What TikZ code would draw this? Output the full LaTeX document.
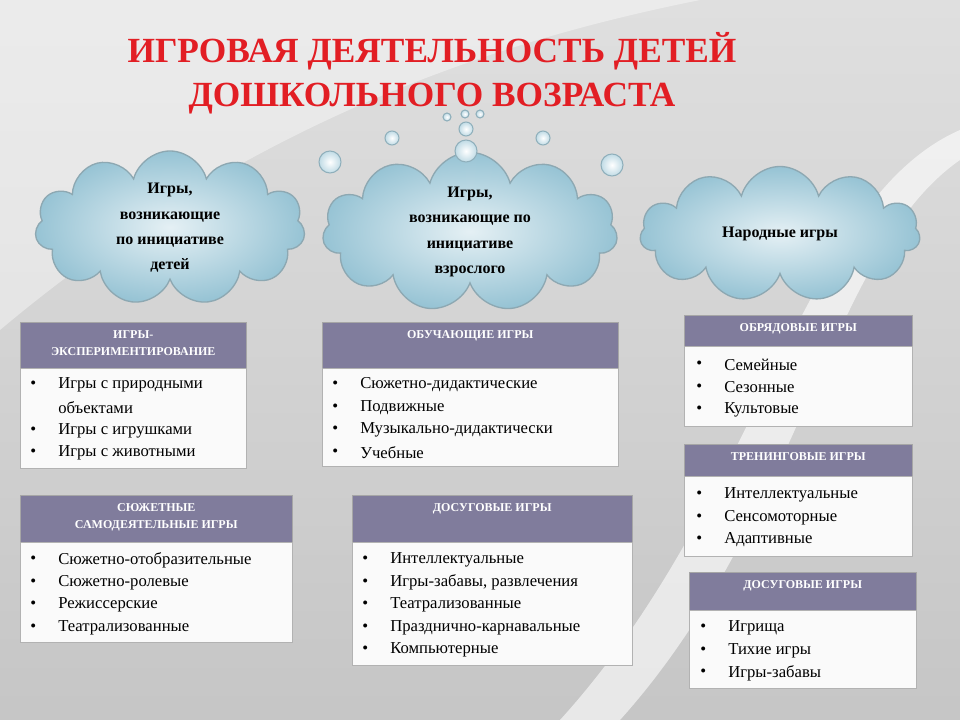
\documentclass[tikz,border=0pt]{standalone}
\usepackage{fontspec}
\setmainfont{Liberation Serif}
\usetikzlibrary{shapes.symbols}
\definecolor{hdr}{RGB}{128,124,156}
\definecolor{ttl}{RGB}{226,30,36}
\definecolor{cl}{RGB}{150,195,212}
\tikzset{
 cloudbox/.style={cloud, cloud puffs=11, cloud ignores aspect, inner sep=0pt, draw=cl!60!gray, line width=1pt, inner color=white!75!cl, outer color=cl, align=center, font=\fontsize{12}{19}\selectfont\bfseries},
 bub/.style={circle, draw=cl!70!gray, line width=0.8pt, inner color=white, outer color=cl!60!white, inner sep=0pt},
 hdrbox/.style={fill=hdr, draw=gray!70},
 bodybox/.style={fill=white!96!gray, draw=gray!60},
 htxt/.style={text=white, font=\fontsize{9}{13}\selectfont\bfseries, align=center, anchor=north},
 itm/.style={anchor=west, inner sep=0pt, font=\fontsize{12.5}{13}\selectfont},
}
\newcommand{\tbl}[7]{% name x1 x2 y1 y2 y3 header
 \node[hdrbox, minimum width=(#3-#2)*0.75pt, minimum height=(#5-#4)*0.75pt, anchor=north west, inner sep=0pt] (#1h) at (#2,#4) {};
 \node[bodybox, minimum width=(#3-#2)*0.75pt, minimum height=(#6-#5)*0.75pt, anchor=north west, inner sep=0pt] (#1b) at (#2,#5) {};
 \node[htxt] (#1t) at ([yshift=-3pt]#1h.north) {#7};
}
\newcommand{\itms}[4]{% x y0 dy list
 \foreach \t [count=\i from 0] in {#4} {
  \node[itm] (b\i) at (#1,#2+\i*#3) {•};
  \node[itm] (t\i) at (#1+28,#2+\i*#3) {\t};
 }
}
\begin{document}
\begin{tikzpicture}[x=0.75pt,y=-0.75pt]
\useasboundingbox (0,0) rectangle (960,720);
\shade[top color=gray!25, bottom color=gray!45] (0,0) rectangle (960,720);
\fill[white, opacity=0.6] (560,720) .. controls (760,500) and (800,200) .. (960,130) -- (960,160) .. controls (830,250) and (800,520) .. (620,720) -- cycle;
\fill[white, opacity=0.4] (0,0) -- (700,0) .. controls (500,40) and (250,120) .. (0,330) -- cycle;
\node[text=ttl, font=\fontsize{26.5}{33}\selectfont\bfseries, align=center] (title) at (432,73) {ИГРОВАЯ ДЕЯТЕЛЬНОСТЬ ДЕТЕЙ\\ДОШКОЛЬНОГО ВОЗРАСТА};
\node[cloudbox, minimum width=270*0.75pt, minimum height=135*0.75pt] (c1) at (170,228) {Игры,\\возникающие\\по инициативе\\детей};
\node[cloudbox, minimum width=295*0.75pt, minimum height=140*0.75pt] (c2) at (470,232) {Игры,\\возникающие по\\инициативе\\взрослого};
\node[cloudbox, minimum width=280*0.75pt, minimum height=135*0.75pt] (c3) at (780,234) {Народные игры};
\foreach \n/\x/\y/\r in {p1/330/162/11, p2/392/138/7, p3/447/117/4, p4/466/129/7, p5/466/151/11, p6/480/114/4, p7/465/114/4, p8/543/138/7, p9/612/165/11}
 \node[bub, minimum size=2*\r*0.75pt] (\n) at (\x,\y) {};
\tbl{a}{20}{246}{322}{368}{468}{ИГРЫ-\\ЭКСПЕРИМЕНТИРОВАНИЕ}
\node[itm] (a1) at (30,385) {•}; \node[itm] (a1t) at (58,385) {Игры с природными};
\node[itm] (a1u) at (58,408) {объектами};
\itms{30}{431}{22}{Игры с игрушками, Игры с животными}
\tbl{bb}{322}{618}{322}{368}{466}{ОБУЧАЮЩИЕ ИГРЫ}
\itms{332}{385}{22.5}{Сюжетно-дидактические, Подвижные, Музыкально-дидактически, Учебные}
\tbl{c}{684}{912}{315}{346}{426}{ОБРЯДОВЫЕ ИГРЫ}
\itms{696}{365}{22.5}{Семейные, Сезонные, Культовые}
\tbl{d}{684}{912}{444}{476}{556}{ТРЕНИНГОВЫЕ ИГРЫ}
\itms{696}{495}{22.5}{Интеллектуальные, Сенсомоторные, Адаптивные}
\tbl{e}{20}{292}{495}{542}{642}{СЮЖЕТНЫЕ\\САМОДЕЯТЕЛЬНЫЕ ИГРЫ}
\itms{30}{560}{22.5}{Сюжетно-отобразительные, Сюжетно-ролевые, Режиссерские, Театрализованные}
\tbl{f}{352}{632}{495}{542}{665}{ДОСУГОВЫЕ ИГРЫ}
\itms{362}{560}{22.5}{Интеллектуальные, {Игры-забавы, развлечения}, Театрализованные, Празднично-карнавальные, Компьютерные}
\tbl{g}{689}{916}{572}{610}{688}{ДОСУГОВЫЕ ИГРЫ}
\itms{700}{628}{22.5}{Игрища, Тихие игры, Игры-забавы}
\end{tikzpicture}
\end{document}
